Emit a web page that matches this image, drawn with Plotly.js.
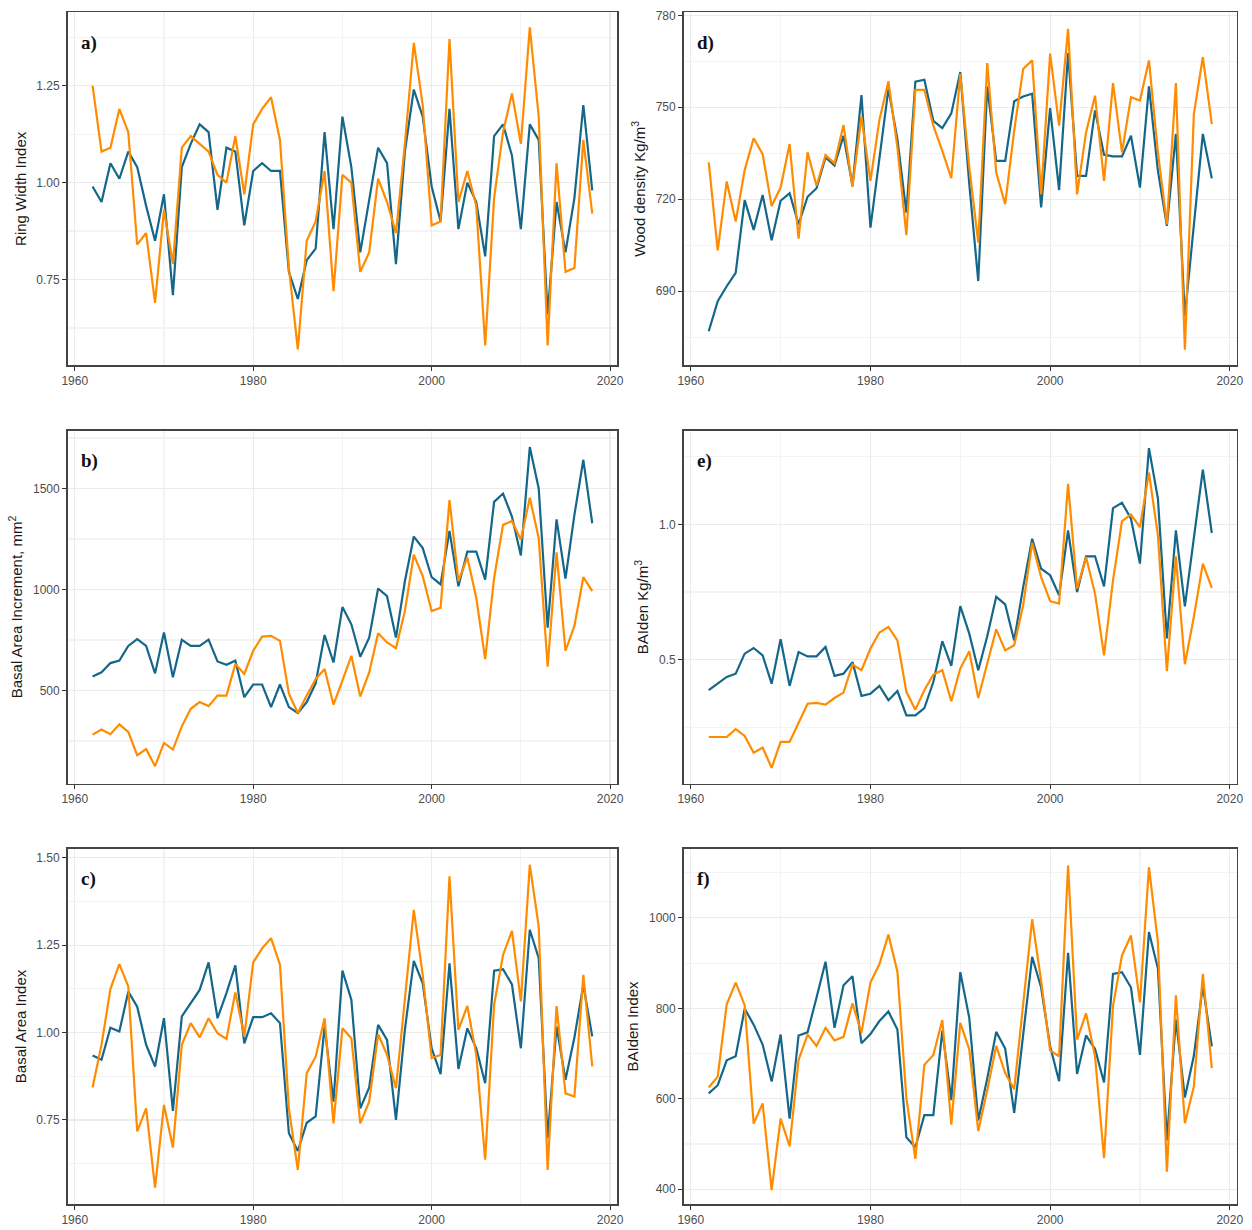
<!DOCTYPE html>
<html>
<head>
<meta charset="utf-8">
<script src="https://cdn.plot.ly/plotly-3.0.1.min.js"></script>
<style>body{margin:0;background:#fff;} #chart{width:1252px;height:1230px;}</style>
</head>
<body>
<div id="chart"></div>
<script>
// years 1962..2018
var years = [];
for (var yr = 1962; yr <= 2018; yr++) years.push(yr);

// a) Ring Width Index
var rwiBlue = [0.99,0.95,1.05,1.01,1.08,1.04,0.94,0.85,0.97,0.71,1.04,1.10,1.15,1.13,0.93,1.09,1.08,0.89,1.03,1.05,1.03,1.03,0.77,0.70,0.80,0.83,1.13,0.88,1.17,1.04,0.82,0.96,1.09,1.05,0.79,1.08,1.24,1.17,0.99,0.90,1.19,0.88,1.00,0.95,0.81,1.12,1.15,1.07,0.88,1.15,1.11,0.66,0.95,0.82,0.96,1.20,0.98];
var rwiOrange = [1.25,1.08,1.09,1.19,1.13,0.84,0.87,0.69,0.93,0.79,1.09,1.12,1.10,1.08,1.02,1.00,1.12,0.97,1.15,1.19,1.22,1.11,0.78,0.57,0.85,0.90,1.03,0.72,1.02,1.00,0.77,0.82,1.01,0.95,0.87,1.10,1.36,1.20,0.89,0.90,1.37,0.95,1.03,0.94,0.58,0.96,1.13,1.23,1.10,1.40,1.17,0.58,1.05,0.77,0.78,1.11,0.92];

// b) Basal Area Increment
var baiBlue = [570,590,636,648,721,754,721,585,787,566,751,721,721,752,644,628,648,467,530,530,418,530,418,389,443,536,775,639,913,828,667,762,1005,967,762,1041,1262,1205,1061,1025,1290,1016,1188,1188,1049,1434,1475,1361,1169,1705,1500,811,1347,1054,1369,1642,1328];
var baiOrange = [282,307,284,333,295,180,210,126,241,208,323,410,443,423,475,475,631,582,697,767,771,746,484,389,475,557,607,430,549,672,471,590,784,738,710,893,1172,1066,893,910,1443,1041,1159,959,656,1057,1320,1339,1246,1454,1254,618,1184,697,820,1061,992];

// c) Basal Area Index
var baiIdxBlue = [0.934,0.922,1.014,1.003,1.117,1.074,0.965,0.903,1.041,0.776,1.046,1.084,1.122,1.201,1.041,1.113,1.192,0.969,1.044,1.044,1.055,1.027,0.712,0.661,0.742,0.760,1.017,0.802,1.177,1.094,0.783,0.843,1.022,0.979,0.750,1.008,1.205,1.141,0.955,0.881,1.198,0.896,1.012,0.955,0.855,1.177,1.181,1.138,0.955,1.294,1.213,0.698,1.017,0.865,0.986,1.136,0.989];
var baiIdxOrange = [0.843,0.965,1.125,1.196,1.132,0.717,0.783,0.556,0.793,0.671,0.965,1.027,0.986,1.041,0.998,0.982,1.115,0.989,1.201,1.241,1.270,1.194,0.783,0.607,0.884,0.931,1.041,0.740,1.012,0.984,0.740,0.802,0.995,0.936,0.841,1.089,1.351,1.165,0.927,0.936,1.447,1.008,1.076,0.936,0.636,1.079,1.222,1.291,1.089,1.480,1.303,0.607,1.076,0.826,0.817,1.165,0.903];

// d) Wood density
var denBlue = [676.9,686.7,691.6,696,719.7,710,721.4,706.6,719.5,722,711.8,720.8,723.6,733.6,731,740.7,724.4,754,710.7,733,756,739.6,715.6,758.4,759,745.6,743.2,748,761.5,725,693.3,756.8,732.5,732.5,752,753.5,754.4,717.3,749.7,723,767.7,727.6,727.6,749,734.5,734,734,740.7,723.8,756.8,729.3,711.3,741.3,681.8,710.7,741.3,726.8];
var denOrange = [732,703.3,725.8,712.7,729.5,739.9,734.7,717.8,723.8,738,707.1,735.3,724.4,734.4,731.7,744.2,724,747,726,745.9,758.5,736.9,708.3,755.7,755.7,744,735.8,726.9,760.9,730.4,705.8,764.4,728.7,718.4,742.4,762.5,765.3,721.6,767.5,744,775.6,721.6,741.8,753.8,726,757.9,735.3,753.3,752.2,765.3,735.3,711.8,757.9,670.9,747.8,766.4,744.5];

// e) BAIden Kg/m3
var baidenBlue = [0.387,0.411,0.436,0.448,0.522,0.543,0.516,0.411,0.575,0.403,0.528,0.512,0.512,0.547,0.440,0.448,0.491,0.366,0.374,0.403,0.350,0.384,0.294,0.294,0.321,0.417,0.568,0.477,0.698,0.596,0.461,0.586,0.732,0.704,0.571,0.768,0.947,0.836,0.812,0.738,0.978,0.750,0.882,0.882,0.771,1.060,1.080,1.021,0.855,1.282,1.095,0.578,0.978,0.697,0.947,1.202,0.968];
var baidenOrange = [0.214,0.214,0.214,0.243,0.218,0.156,0.175,0.100,0.196,0.196,0.264,0.337,0.340,0.334,0.358,0.378,0.482,0.461,0.541,0.600,0.621,0.571,0.381,0.315,0.387,0.445,0.461,0.346,0.467,0.531,0.358,0.485,0.612,0.534,0.553,0.701,0.932,0.805,0.716,0.707,1.150,0.762,0.879,0.744,0.516,0.793,1.012,1.036,0.990,1.191,0.959,0.457,0.882,0.483,0.658,0.855,0.765];

// f) BAIden Index
var baidenIdxBlue = [612,630,685,694,799,764,720,638,742,556,740,747,824,903,757,851,871,723,743,772,793,753,515,493,564,564,751,597,880,779,552,645,748,711,569,742,914,846,716,639,923,655,740,710,636,876,880,846,697,969,888,508,775,603,695,850,716];
var baidenIdxOrange = [625,649,809,857,807,545,590,398,556,495,686,742,717,757,729,737,811,746,857,898,963,881,601,467,675,697,774,543,768,709,529,619,717,657,621,813,997,861,707,694,1116,731,789,694,469,805,917,961,813,1112,946,439,829,546,627,876,668];

var BLUE = '#14678a', ORANGE = '#ff8c00';

var panels = [
  {lab:'a)', title:'Ring Width Index', b:rwiBlue, o:rwiOrange, range:[0.529,1.439], ticks:[0.75,1.00,1.25], fmt:'.2f', minor:0.125, col:0, row:0},
  {lab:'b)', title:'Basal Area Increment, mm<sup>2</sup>', b:baiBlue, o:baiOrange, range:[40,1787], ticks:[500,1000,1500], fmt:'d', minor:250, col:0, row:1},
  {lab:'c)', title:'Basal Area Index', b:baiIdxBlue, o:baiIdxOrange, range:[0.509,1.526], ticks:[0.75,1.00,1.25,1.50], fmt:'.2f', minor:0.125, col:0, row:2},
  {lab:'d)', title:'Wood density Kg/m<sup>3</sup>', b:denBlue, o:denOrange, range:[665.8,781], ticks:[690,720,750,780], fmt:'d', minor:15, col:1, row:0},
  {lab:'e)', title:'BAIden Kg/m<sup>3</sup>', b:baidenBlue, o:baidenOrange, range:[0.042,1.347], ticks:[0.5,1.0], fmt:'.1f', minor:0.25, col:1, row:1},
  {lab:'f)', title:'BAIden Index', b:baidenIdxBlue, o:baidenIdxOrange, range:[367,1153], ticks:[400,600,800,1000], fmt:'d', minor:100, col:1, row:2}
];

var xDom = [[0.054,0.493],[0.546,0.988]];
var yDom = [[0.703,0.990],[0.363,0.650],[0.021,0.310]];

var data = [];
var layout = {
  width:1252, height:1230,
  margin:{l:0,r:0,t:0,b:0},
  paper_bgcolor:'#fff', plot_bgcolor:'#fff',
  showlegend:false,
  font:{family:'Liberation Sans, Arial, sans-serif', color:'#4d4d4d'},
  annotations:[]
};

panels.forEach(function(p, i) {
  var n = i + 1;
  var xa = 'x' + (n === 1 ? '' : n), ya = 'y' + (n === 1 ? '' : n);
  data.push({x:years, y:p.b, xaxis:xa, yaxis:ya, type:'scatter', mode:'lines', line:{color:BLUE, width:2.2}});
  data.push({x:years, y:p.o, xaxis:xa, yaxis:ya, type:'scatter', mode:'lines', line:{color:ORANGE, width:2.2}});

  var gridCol = '#ebebeb';
  layout['xaxis' + (n === 1 ? '' : n)] = {
    domain:xDom[p.col], anchor:ya, range:[1959.2,2020.8],
    tickvals:[1960,1980,2000,2020], ticks:'outside', ticklen:4, tickcolor:'#333',
    tickfont:{size:12, color:'#4d4d4d'},
    showgrid:true, gridcolor:gridCol, gridwidth:1.2,
    minor:{tickvals:[1970,1990,2010], showgrid:true, gridcolor:'#f3f3f3', ticks:''},
    showline:true, mirror:true, linecolor:'#444', linewidth:1.5, zeroline:false
  };
  layout['yaxis' + (n === 1 ? '' : n)] = {
    domain:yDom[p.row], anchor:xa, range:p.range,
    tickvals:p.ticks, tickformat:p.fmt, ticks:'outside', ticklen:4, tickcolor:'#333',
    tickfont:{size:12, color:'#4d4d4d'},
    showgrid:true, gridcolor:gridCol, gridwidth:1.2,
    minor:{dtick:p.minor, showgrid:true, gridcolor:'#f3f3f3', ticks:''},
    showline:true, mirror:true, linecolor:'#444', linewidth:1.5, zeroline:false,
    title:{text:p.title, font:{size:15, color:'#1a1a1a'}, standoff:6}
  };
  layout.annotations.push({
    xref:xa + ' domain', yref:ya + ' domain', x:0.02, y:0.95, xanchor:'left', yanchor:'top',
    text:'<b>' + p.lab + '</b>', showarrow:false,
    font:{family:'Liberation Serif, Times New Roman, serif', size:19, color:'#111'}
  });
});

Plotly.newPlot('chart', data, layout, {staticPlot:true});
</script>
</body>
</html>
